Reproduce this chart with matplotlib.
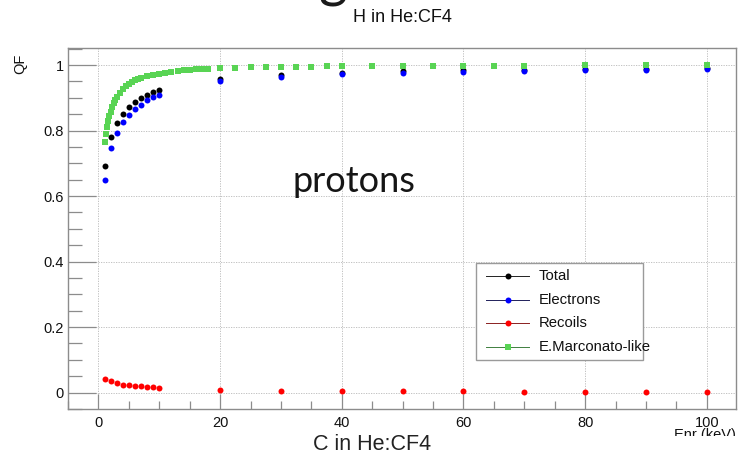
import matplotlib
matplotlib.use('Agg')
import matplotlib.pyplot as plt
from matplotlib.lines import Line2D
from matplotlib.patches import Rectangle
from matplotlib.ticker import MultipleLocator

plt.rcParams['font.family'] = ['Liberation Sans', 'DejaVu Sans']

# Quenching factor for H recoils in He:CF4
e_low = [1, 2, 3, 4, 5, 6, 7, 8, 9, 10, 20, 30, 40, 50, 60, 70, 80, 90, 100]
qf_total = [0.691, 0.781, 0.823, 0.851, 0.871, 0.886, 0.898, 0.909, 0.917, 0.924,
            0.958, 0.971, 0.977, 0.981, 0.984, 0.985, 0.987, 0.989, 0.990]
qf_electrons = [0.649, 0.747, 0.794, 0.827, 0.849, 0.866, 0.879, 0.892, 0.901, 0.909,
                0.950, 0.965, 0.972, 0.977, 0.980, 0.982, 0.984, 0.986, 0.987]
qf_recoils = [0.042, 0.034, 0.029, 0.024, 0.022, 0.020, 0.019, 0.017, 0.016, 0.015,
              0.008, 0.006, 0.005, 0.004, 0.004, 0.003, 0.003, 0.003, 0.003]

e_marc = [1, 1.2, 1.4, 1.6, 1.8, 2, 2.25, 2.5, 2.75, 3, 3.5, 4, 4.5, 5, 5.5, 6, 6.5, 7,
          8, 9, 10, 11, 12, 13, 14, 15, 16, 17, 18,
          20, 22.5, 25, 27.5, 30, 32.5, 35, 37.5, 40,
          45, 50, 55, 60, 65, 70, 80, 90, 100]
qf_marc = [0.766, 0.790, 0.811, 0.829, 0.844, 0.857, 0.871, 0.883, 0.893, 0.901,
           0.915, 0.926, 0.935, 0.942, 0.948, 0.953, 0.957, 0.960,
           0.966, 0.970, 0.974, 0.977, 0.980, 0.982, 0.984, 0.986, 0.987, 0.988, 0.989,
           0.991, 0.992, 0.993, 0.994, 0.995, 0.995, 0.995, 0.996, 0.996,
           0.997, 0.997, 0.998, 0.998, 0.998, 0.998, 0.999, 0.999, 0.999]

series = [('Total', e_low, qf_total, 'black', 'o', '#222222'),
          ('Electrons', e_low, qf_electrons, '#0000ff', 'o', '#20205a'),
          ('Recoils', e_low, qf_recoils, '#ff0000', 'o', '#8a2020'),
          ('E.Marconato-like', e_marc, qf_marc, '#59d454', 's', '#3f7f3f')]

frame_col = '#8c8c8c'

fig = plt.figure(figsize=(7.38, 4.54), dpi=100)
ax = fig.add_axes([68 / 738, 1 - 409 / 454, (736 - 68) / 738, (409 - 48) / 454])

for name, xs, ys, col, mk, lcol in series:
    ax.plot(xs, ys, linestyle='none', marker=mk, markersize=4.3,
            markerfacecolor=col, markeredgecolor=col, markeredgewidth=0, zorder=3)

ax.set_xlim(-5, 104.8)
ax.set_ylim(-0.05, 1.052)
ax.xaxis.set_major_locator(MultipleLocator(20))
ax.xaxis.set_minor_locator(MultipleLocator(5))
ax.yaxis.set_major_locator(MultipleLocator(0.2))
ax.yaxis.set_minor_locator(MultipleLocator(0.05))
ax.set_yticks([0, 0.2, 0.4, 0.6, 0.8, 1.0])
ax.set_yticklabels(['0', '0.2', '0.4', '0.6', '0.8', '1'])
ax.tick_params(axis='both', which='both', direction='in', color=frame_col,
               labelsize=10.5, labelcolor='#111111', top=False, right=False)
ax.tick_params(axis='y', which='major', length=20, width=0.9, pad=3)
ax.tick_params(axis='y', which='minor', length=10, width=0.9)
ax.tick_params(axis='x', which='major', length=11, width=0.9, pad=5)
ax.tick_params(axis='x', which='minor', length=5.5, width=0.9)
for sp in ax.spines.values():
    sp.set_color(frame_col)
    sp.set_linewidth(1.0)
ax.grid(True, which='major', color='#b8b8b8', linestyle=(0, (1.5, 1.5)), linewidth=0.6)
ax.set_axisbelow(True)

# legend box drawn by hand, ROOT style
lx0, ly0, lx1, ly1 = 476, 263, 643, 360
to_ax = lambda px, py: ((px - 68) / (736 - 68), (409 - py) / (409 - 48))
bx, by = to_ax(lx0, ly1)
bw = (lx1 - lx0) / (736 - 68)
bh = (ly1 - ly0) / (409 - 48)
ax.add_patch(Rectangle((bx, by), bw, bh, transform=ax.transAxes, facecolor='white',
                       edgecolor='#9a9a9a', linewidth=1.0, zorder=5))
rows_y = [276, 300, 323, 347]
for (name, xs, ys, col, mk, lcol), ry in zip(series, rows_y):
    x0, y0 = to_ax(486, ry)
    x1, _ = to_ax(529, ry)
    xm, _ = to_ax(507.5, ry)
    ax.add_line(Line2D([x0, x1], [y0, y0], transform=ax.transAxes, color=lcol,
                       linewidth=0.7, zorder=6))
    ax.add_line(Line2D([xm], [y0], transform=ax.transAxes, marker=mk, markersize=4.3,
                       markerfacecolor=col, markeredgewidth=0, linestyle='none', zorder=7))
    tx, _ = to_ax(539, ry)
    ax.text(tx, y0, name, transform=ax.transAxes, fontsize=10.7, color='#111111',
            ha='left', va='center', zorder=7)

fig.text(402 / 738, 1 - 18 / 454, 'H in He:CF4', ha='center', va='center',
         fontsize=13, color='#111111')
fig.text(20 / 738, 1 - 54 / 454, 'QF', rotation=90, ha='center', va='top',
         fontsize=10.5, color='#111111')
fig.text(736 / 738, 1 - 428.5 / 454, 'Enr (keV)', ha='right', va='top',
         fontsize=10.5, color='#111111')

# slide overlay: cover strip at the bottom and slide texts
fig.patches.append(Rectangle((0, 0), 1, 1 - 436 / 454, transform=fig.transFigure,
                             facecolor='white', edgecolor='none', zorder=10))
fig.text(372 / 738, 1 - 444 / 454, 'C in He:CF4', ha='center', va='center',
         fontsize=15.5, color='#222222', zorder=11)
fig.text(354 / 738, 1 - 182 / 454, 'protons', ha='center', va='center',
         fontsize=26, family='Lato', color='#151515', zorder=11)
fig.text(333 / 738, 1 + 0.01, 'g', ha='center', va='baseline',
         fontsize=40, family='Lato', color='#1a1a1a', zorder=11)

fig.savefig('out.png', dpi=100)
